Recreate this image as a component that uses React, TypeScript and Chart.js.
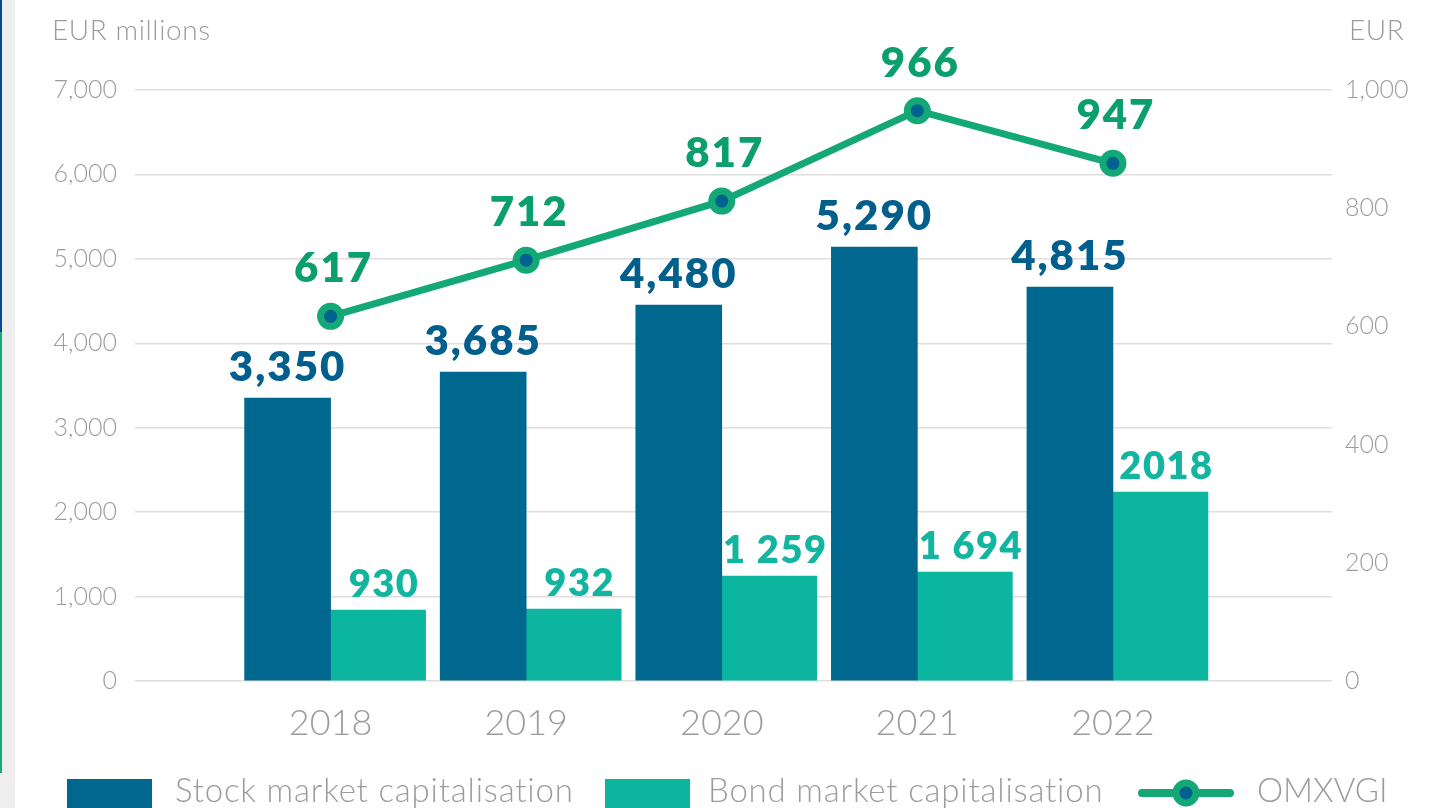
import React, { useEffect, useRef } from 'react';
import { Chart, registerables } from 'chart.js';

Chart.register(...registerables);

// ---- data ----
const years = ['2018', '2019', '2020', '2021', '2022'];
const stockValues = [3351, 3659, 4453, 5140, 4666];
const stockLabels = ['3,350', '3,685', '4,480', '5,290', '4,815'];
const bondValues = [841, 853, 1243, 1291, 2238];
const bondLabels = ['930', '932', '1 259', '1 694', '2018'];
const omxValues = [617, 712, 812, 965, 876];
const omxLabels = ['617', '712', '817', '966', '947'];
const leftAxisTitle = 'EUR millions';
const rightAxisTitle = 'EUR';
const legendNames = ['Stock market capitalisation', 'Bond market capitalisation', 'OMXVGI'];

// ---- styles ----
const STOCK = '#00678f';
const BOND = '#0bb59e';
const LINE = '#13a876';
const DOT = '#00628f';
const STOCK_TXT = '#005f8c';
const BOND_TXT = '#12b59f';
const LINE_TXT = '#0b9f6e';
const GREY = '#9c9c9c';
const FONT = 'Lato, "Open Sans", sans-serif';

const labelSets = [
  { texts: stockLabels, color: STOCK_TXT, size: 42, offset: 17, dx: 0, spacing: 2 },
  { texts: bondLabels, color: BOND_TXT, size: 38, offset: 13, dx: 6, spacing: 1.5 },
  { texts: omxLabels, color: LINE_TXT, size: 42, offset: 34, dx: 3, spacing: 2 },
];

const valueLabelPlugin = {
  id: 'valueLabels',
  afterDatasetsDraw(chart: any) {
    const ctx = chart.ctx;
    chart.data.datasets.forEach((_ds: any, di: number) => {
      const cfg = labelSets[di];
      const meta = chart.getDatasetMeta(di);
      meta.data.forEach((el: any, i: number) => {
        const { x, y } = el.getProps(['x', 'y'], true);
        ctx.save();
        ctx.font = `800 ${cfg.size}px ${FONT}`;
        try { (ctx as any).letterSpacing = `${cfg.spacing}px`; } catch (e) {}
        ctx.fillStyle = cfg.color;
        ctx.textAlign = 'center';
        ctx.textBaseline = 'alphabetic';
        ctx.fillText(cfg.texts[i], x + cfg.dx, y - cfg.offset);
        ctx.restore();
      });
    });
  },
};

export default function App() {
  const ref = useRef<HTMLCanvasElement | null>(null);

  useEffect(() => {
    if (!ref.current) return;
    const chart = new Chart(ref.current, {
      type: 'bar',
      data: {
        datasets: [
          {
            type: 'bar',
            label: legendNames[0],
            data: stockValues.map((v, i) => ({ x: i, y: v })),
            backgroundColor: STOCK,
            barThickness: 86,
            yAxisID: 'y',
            order: 2,
          },
          {
            type: 'bar',
            label: legendNames[1],
            data: bondValues.map((v, i) => ({ x: i, y: v })),
            backgroundColor: BOND,
            barThickness: 95,
            yAxisID: 'y',
            order: 2,
          },
          {
            type: 'line',
            label: legendNames[2],
            data: omxValues.map((v, i) => ({ x: i, y: v })),
            borderColor: LINE,
            borderWidth: 7,
            pointRadius: 10,
            pointBorderWidth: 7,
            pointBackgroundColor: DOT,
            pointBorderColor: LINE,
            yAxisID: 'y1',
            order: 0,
          } as any,
        ],
      },
      options: {
        animation: false,
        responsive: false,
        devicePixelRatio: 1,
        layout: { padding: { top: 90, left: 0, right: 0, bottom: 0 } },
        plugins: { legend: { display: false }, tooltip: { enabled: false } },
        scales: {
          x: {
            type: 'linear',
            min: -1.0,
            max: 5.12,
            offset: false,
            grid: { display: false, drawTicks: false },
            border: { display: false },
            afterBuildTicks: (scale: any) => {
              scale.ticks = years.map((_, i) => ({ value: i }));
            },
            afterFit: (scale: any) => {
              scale.height = 127;
            },
            ticks: {
              callback: (v: any) => years[Math.round(Number(v))] ?? '',
              color: GREY,
              font: { family: FONT, size: 36, weight: '300' as any },
              padding: 21,
              maxRotation: 0,
              autoSkip: false,
            },
          },
          y: {
            position: 'left',
            min: 0,
            max: 7000,
            grid: { color: '#dedede', lineWidth: 1.5, drawTicks: false },
            border: { display: false },
            afterFit: (scale: any) => {
              scale.width = 135;
            },
            ticks: {
              stepSize: 1000,
              callback: (v: any) => Number(v).toLocaleString('en-US'),
              color: GREY,
              font: { family: FONT, size: 25, weight: '300' as any },
              padding: 18,
            },
          },
          y1: {
            position: 'right',
            min: 0,
            max: 1000,
            grid: { display: false, drawTicks: false },
            border: { display: false },
            afterFit: (scale: any) => {
              scale.width = 108;
            },
            ticks: {
              stepSize: 200,
              callback: (v: any) => Number(v).toLocaleString('en-US'),
              color: GREY,
              font: { family: FONT, size: 25, weight: '300' as any },
              padding: 13,
            },
          },
        },
      },
      plugins: [valueLabelPlugin],
    });
    return () => chart.destroy();
  }, []);

  const textStyle: React.CSSProperties = {
    position: 'absolute',
    fontFamily: FONT,
    fontWeight: 300,
    color: GREY,
    whiteSpace: 'nowrap',
    lineHeight: 1,
  };

  return (
    <div
      style={{
        position: 'absolute',
        left: 0,
        top: 0,
        width: 1440,
        height: 808,
        overflow: 'hidden',
        background: '#fff',
      }}
    >
      {/* left page-edge decoration */}
      <div style={{ position: 'absolute', left: 0, top: 0, width: 15, height: 808, background: '#eeeeee' }} />
      <div style={{ position: 'absolute', left: 0, top: 0, width: 2, height: 332, background: '#0a4a8c' }} />
      <div style={{ position: 'absolute', left: 0, top: 332, width: 2, height: 441, background: '#13a876' }} />

      <canvas ref={ref} width={1440} height={808} style={{ position: 'absolute', left: 0, top: 0 }} />

      <div style={{ ...textStyle, left: 52, top: 15, fontSize: 28, letterSpacing: 0.6 }}>{leftAxisTitle}</div>
      <div style={{ ...textStyle, left: 1349, top: 15, fontSize: 28, letterSpacing: 0.6 }}>{rightAxisTitle}</div>

      {/* legend */}
      <div style={{ position: 'absolute', left: 67, top: 779, width: 85, height: 34, background: STOCK }} />
      <div style={{ ...textStyle, left: 175, top: 773, fontSize: 33, letterSpacing: 0.8 }}>{legendNames[0]}</div>
      <div style={{ position: 'absolute', left: 605, top: 779, width: 85, height: 34, background: BOND }} />
      <div style={{ ...textStyle, left: 708, top: 773, fontSize: 33, letterSpacing: 0.8 }}>{legendNames[1]}</div>
      <svg
        style={{ position: 'absolute', left: 1136, top: 775 }}
        width={100}
        height={36}
        viewBox="0 0 100 36"
      >
        <line x1={6} y1={18} x2={94} y2={18} stroke={LINE} strokeWidth={8} strokeLinecap="round" />
        <circle cx={50} cy={18} r={10} fill={DOT} stroke={LINE} strokeWidth={7} />
      </svg>
      <div style={{ ...textStyle, left: 1257, top: 773, fontSize: 33 }}>{legendNames[2]}</div>
    </div>
  );
}
